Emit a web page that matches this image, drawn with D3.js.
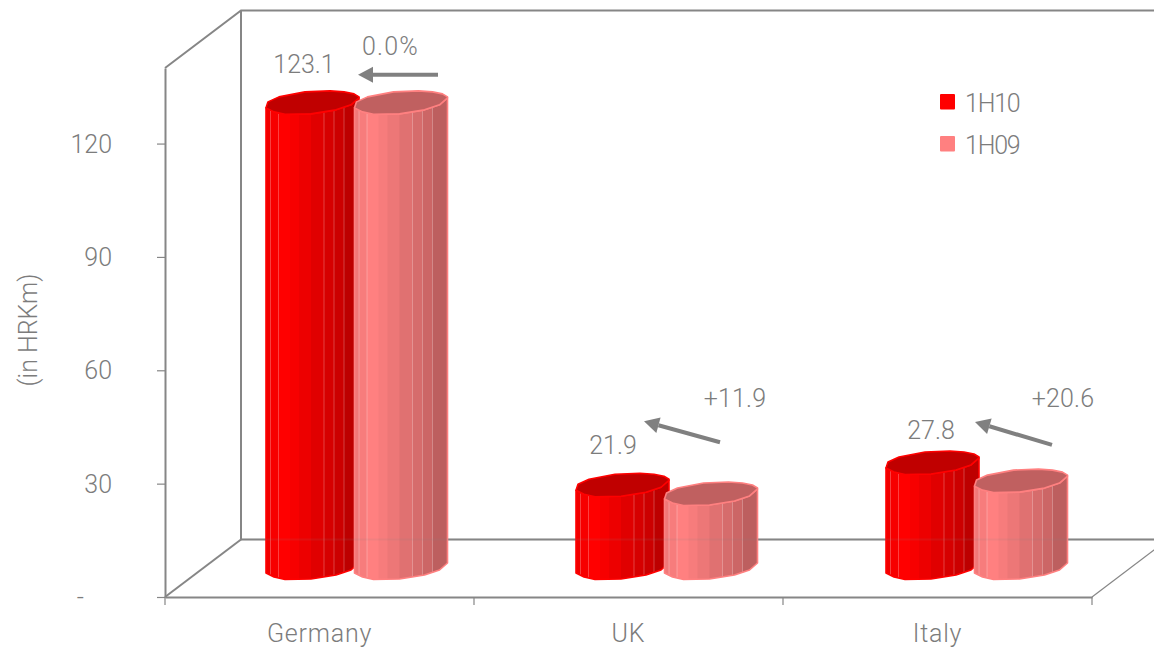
<!DOCTYPE html>
<html><head><meta charset="utf-8">
<script src="https://cdn.jsdelivr.net/npm/d3@7/dist/d3.min.js"></script>
<style>
html,body{margin:0;padding:0;background:#fff}
svg{display:block}
text{font-family:Roboto,sans-serif;font-weight:300;fill:#7c7c7c;font-size:25px}
</style></head><body><svg id="c" width="1154" height="651"></svg>
<script>
const categories = ["Germany","UK","Italy"];
const seriesNames = ["1H10","1H09"];
const values1H10 = [123.1,21.9,27.8];
const values1H09 = [123.1,19.6,23.0];
const yTicks = [0,30,60,90,120];
const changeLabels = ["0.0%","+11.9","+20.6"];

const seriesColors = ["#ff0000","#ff8080"];
const series = [values1H10,values1H09];
const gray = "#868686";
const svg = d3.select("#c");

const x = d3.scaleBand().domain(categories).range([165,1092]);
const xBar = d3.scalePoint().domain(categories).range([266,886]);
const y = d3.scaleLinear().domain([0,140]).range([597,68]);
const wallDx = 76, wallDy = -57.5;
const barDepthY = -24, barStep = 88.5;

const wall = svg.append("g").attr("fill","none").attr("stroke",gray).attr("stroke-width",2);
const x0 = x.range()[0], x1 = x.range()[1], yB = y(0), yT = y(140);
wall.append("path").attr("d",`M${x0},${yT}L${x0+wallDx},${yT+wallDy}L1154,${yT+wallDy}`);
wall.append("path").attr("d",`M${x0+wallDx},${yT+wallDy}V${yB+wallDy}H1154`);
wall.append("path").attr("d",`M${x0},${yB}L${x0+wallDx},${yB+wallDy}`);
wall.append("path").attr("d",`M${x1},${yB}L${x1+wallDx},${yB+wallDy}`).attr("stroke-width",1.2);

const yAxis = d3.axisLeft(y).tickValues(yTicks).tickSizeInner(8).tickSizeOuter(0).tickPadding(45).tickFormat(d=>d===0?"-":d);
const gy = svg.append("g").attr("transform",`translate(${x0},0)`).call(yAxis);
gy.selectAll(".tick text").attr("dx",d=>d===0?-28:0).attr("dy","0.34em");
const xAxis = d3.axisBottom(x).tickSize(0).tickSizeOuter(0).tickPadding(27);
const gx = svg.append("g").attr("transform",`translate(0,${yB})`).call(xAxis);
gx.selectAll(".xt").data(d3.range(categories.length+1)).enter().append("line").attr("class","xt")
  .attr("x1",i=>x0+i*x.step()).attr("x2",i=>x0+i*x.step()).attr("y1",0).attr("y2",8).attr("stroke",gray).attr("stroke-width",1.2);
svg.selectAll(".domain").attr("stroke",gray).attr("stroke-width",2);
svg.selectAll(".tick line").attr("stroke",gray).attr("stroke-width",1.2);
svg.selectAll(".tick text").attr("fill","#7c7c7c").style("font-size","25px").attr("font-family",null);
gx.selectAll(".tick text").attr("dy","0.71em").style("letter-spacing","0.8px");

svg.append("text").attr("transform","translate(37,330) rotate(-90)").attr("text-anchor","middle").text("(in HRKm)");

const front = [[0,0],[8,4],[19,6.5],[45,6],[70,2],[85,-3],[93,-10]];
const lidBack = [[2,-6],[13,-11],[39,-16],[64,-17],[78,-16],[88,-14],[93,-11]];
const strips = [[0,4.5,.94],[4.5,12.5,.97],[12.5,24,1],[24,33,.97],[33,45,.93],[45,58,.88],[58,68,.84],[68,78,.8],[78,93,.74]];
const seams = [4.5,12.5,58,68,78];
const lidColors = ["#c00000","#c06060"];
const defs = svg.append("defs");

categories.forEach((c,ci)=>{
  series.forEach((vals,si)=>{
    const left = xBar(c)+si*barStep;
    const base = y(0)+barDepthY;
    const top = y(vals[ci])+barDepthY;
    const base0 = d3.rgb(seriesColors[si]);
    const g = svg.append("g").attr("transform",`translate(${left},0)`);
    const side = "M"+front.map(p=>[p[0],p[1]+base]).join("L")+"L"+[...front].reverse().map(p=>[p[0],p[1]+top]).join("L")+"Z";
    const id = `clip${ci}${si}`;
    defs.append("clipPath").attr("id",id).append("path").attr("d",side);
    const body = g.append("g").attr("clip-path",`url(#${id})`);
    strips.forEach(s=>{
      body.append("rect").attr("x",s[0]).attr("width",s[1]-s[0]+.5).attr("y",top-20).attr("height",base-top+40)
        .attr("fill",d3.rgb(base0.r*s[2],base0.g*s[2],base0.b*s[2]).formatHex());
    });
    seams.forEach(sx=>{
      body.append("line").attr("x1",sx).attr("x2",sx).attr("y1",top-20).attr("y2",base+20)
        .attr("stroke","#fff").attr("stroke-opacity",.25).attr("stroke-width",1);
    });
    g.append("path").attr("d",side).attr("fill","none").attr("stroke",seriesColors[si]).attr("stroke-width",1.6).attr("stroke-linejoin","round");
    const lidPath = "M"+[...front].reverse().concat(lidBack).map(p=>[p[0],p[1]+top]).join("L")+"Z";
    g.append("path").attr("d",lidPath).attr("fill",lidColors[si]).attr("stroke",seriesColors[si]).attr("stroke-width",1.6).attr("stroke-linejoin","round");
  });
});

// faint back-wall line showing through the bars
svg.append("line").attr("x1",x0+wallDx).attr("x2",1154).attr("y1",yB+wallDy).attr("y2",yB+wallDy).attr("stroke",gray).attr("stroke-opacity",.12).attr("stroke-width",2);

// annotations: offsets from the category start and from the 1H10 bar top
const valueOff = [[139,-35],[139,-36],[148,-29]];
const changeOff = [[225.5,-53],[261,-83],[280,-61]];
const arrowFrom = [[273,-33],[246,-48],[269,-23]];
const arrowTo = [[193,-33],[170,-69],[192,-46]];
categories.forEach((c,ci)=>{
  const ax = x(c), ay = y(values1H10[ci])+barDepthY;
  svg.append("text").attr("x",ax+valueOff[ci][0]).attr("y",ay+valueOff[ci][1]).attr("text-anchor","middle").text(values1H10[ci].toFixed(1));
  svg.append("text").attr("x",ax+changeOff[ci][0]).attr("y",ay+changeOff[ci][1]).attr("text-anchor","middle").style("letter-spacing",ci===0?"1.2px":"0.2px").text(changeLabels[ci]);
  const a = arrowFrom[ci], b = arrowTo[ci];
  const ang = Math.atan2(b[1]-a[1],b[0]-a[0]), L = 15;
  const tip = [ax+b[0],ay+b[1]], tail=[ax+a[0],ay+a[1]];
  const neck=[tip[0]-L*Math.cos(ang),tip[1]-L*Math.sin(ang)];
  svg.append("line").attr("x1",tail[0]).attr("y1",tail[1]).attr("x2",neck[0]).attr("y2",neck[1]).attr("stroke","#808080").attr("stroke-width",4);
  const nx=-Math.sin(ang)*8, ny=Math.cos(ang)*8;
  svg.append("path").attr("d",`M${tip}L${neck[0]+nx},${neck[1]+ny}L${neck[0]-nx},${neck[1]-ny}Z`).attr("fill","#808080");
});

seriesNames.forEach((n,i)=>{
  const g = svg.append("g").attr("transform",`translate(940,${94+i*42})`);
  g.append("rect").attr("width",15).attr("height",15.5).attr("rx",1).attr("fill",seriesColors[i]);
  g.append("text").attr("x",25).attr("y",18).style("letter-spacing","-1.2px").text(n);
});
</script></body></html>
